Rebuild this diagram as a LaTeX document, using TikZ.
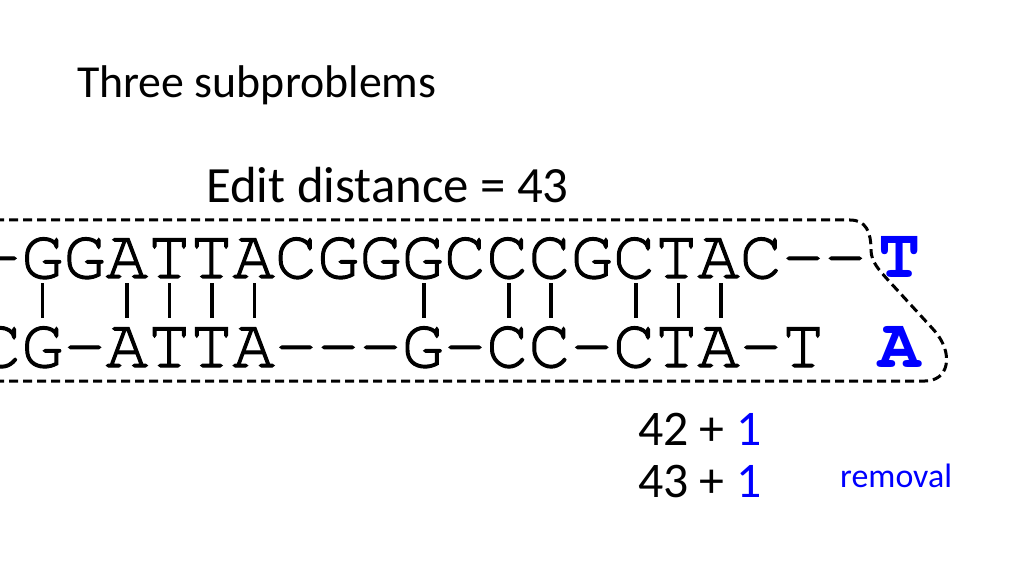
\documentclass[tikz,border=0pt]{standalone}
\usepackage{fontspec}
\setmainfont{Carlito}
\newfontfamily\seqfont{texgyrecursor-regular.otf}[FakeBold=1.5]
\newfontfamily\gapfont{texgyrecursor-bold.otf}
\usetikzlibrary{positioning}
\definecolor{subblue}{RGB}{0,0,255}

\begin{document}
\begin{tikzpicture}[x=1bp,y=-1bp,
		txt/.style={inner sep=0pt,anchor=base west},
		seq/.style={txt,font=\seqfont\fontsize{70.7}{70.7}\selectfont},
		gap/.style={txt,font=\gapfont\fontsize{70.7}{70.7}\selectfont,text=subblue,anchor=base},
		bar/.style={line width=3.5bp},
		outline/.style={line width=3bp,dash pattern=on 9bp off 5bp}]
	\useasboundingbox (0,0) rectangle (1024,576);
	\node[txt,font=\fontsize{46}{46}\selectfont] (title) at (77,98) {Three subproblems};
	\node[txt,font=\fontsize{51}{51}\selectfont] (ed) at (206,203) {Edit distance = 43};
	
	\node[seq] (s) at (-21.2,278) {-GGATTACGGGCCCGCTAC--};
	\node[seq] (t) at (-21.2,367) {CG-ATTA---G-CC-CTA-T};
	\node[gap] (sT) at (900,278) {T};
	\node[gap] (tA) at (900,367) {A};
	\foreach \k in {1,3,4,5,6,10,12,13,15,16,17}
		\draw[bar] (\k*42.4,283) -- (\k*42.4,318);
	
	\draw[outline] (-5,220) -- (850,220) .. controls (866,220) and (871,232) .. (871,250)
		.. controls (871,262) and (880,271) .. (888,280) -- (932,328)
		.. controls (945,342) and (948,355) .. (946,365)
		.. controls (944,375) and (936,381) .. (925,381) -- (-5,381);
	
	\node[txt,font=\fontsize{50}{50}\selectfont] (c1) at (638,445) {42 + \textcolor{subblue}{1}};
	\node[txt,font=\fontsize{50}{50}\selectfont] (c2) at (638,497) {43 + \textcolor{subblue}{1}};
	\node[txt,font=\fontsize{34}{34}\selectfont,text=subblue] (rm) at (840,487) {removal};
\end{tikzpicture}
\end{document}
